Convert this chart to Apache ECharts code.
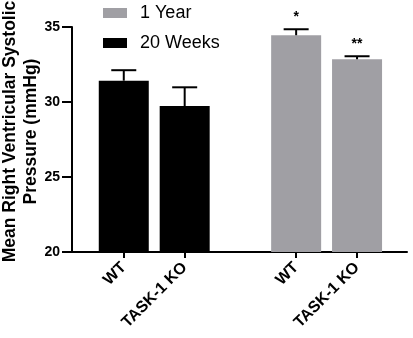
<!DOCTYPE html>
<html>
<head>
<meta charset="utf-8">
<script src="https://cdn.jsdelivr.net/npm/echarts@6/dist/echarts.min.js"></script>
<style>
  html, body { margin: 0; padding: 0; background: #fff; }
  #main { width: 413px; height: 338px; }
</style>
</head>
<body>
<div id="main"></div>
<script>
// values
var genotypes = ['WT', 'TASK-1 KO'];
var pos20w = [1, 2];
var pos1y = [3.83, 4.83];
var mean20w = [31.42, 29.73];
var sem20w = [0.7, 1.25];
var mean1y = [34.45, 32.85];
var sem1y = [0.4, 0.2];
var stars1y = ['*', '**'];

var FONT = 'Liberation Sans, Arial, sans-serif';
var allPos = pos20w.concat(pos1y);
var allNames = genotypes.concat(genotypes);

var errData = [];
var errStars = [];
pos20w.forEach(function (x, i) { errData.push([x, mean20w[i], sem20w[i]]); errStars.push(''); });
pos1y.forEach(function (x, i) { errData.push([x, mean1y[i], sem1y[i]]); errStars.push(stars1y[i]); });

function renderErr(params, api) {
  var x = api.value(0), m = api.value(1), e = api.value(2);
  var p0 = api.coord([x, m]);
  var p1 = api.coord([x, m + e]);
  var half = 12.5;
  var kids = [
    { type: 'line', shape: { x1: p0[0], y1: p0[1], x2: p1[0], y2: p1[1] }, style: { stroke: '#000', lineWidth: 2 } },
    { type: 'line', shape: { x1: p1[0] - half, y1: p1[1], x2: p1[0] + half, y2: p1[1] }, style: { stroke: '#000', lineWidth: 2 } }
  ];
  var s = errStars[params.dataIndex];
  if (s) {
    kids.push({
      type: 'text', x: p1[0], y: p1[1] - 5,
      style: { text: s, fill: '#000', font: 'bold 14px ' + FONT, align: 'center', verticalAlign: 'bottom' }
    });
  }
  return { type: 'group', children: kids };
}

var chart = echarts.init(document.getElementById('main'), null, { renderer: 'canvas' });

var option = {
  animation: false,
  textStyle: { fontFamily: FONT },
  grid: { left: 72, right: 6, top: 27, bottom: 86, outerBoundsMode: 'none', containLabel: false },
  legend: {
    data: ['1 Year', '20 Weeks'],
    orient: 'vertical',
    left: 103,
    top: 4,
    padding: 0,
    itemWidth: 24,
    itemHeight: 10,
    itemGap: 12,
    icon: 'rect',
    textStyle: { fontSize: 18, color: '#000', fontFamily: FONT, padding: [0, 0, 0, 8] }
  },
  xAxis: {
    type: 'value',
    min: 0.15,
    max: 5.65,
    splitLine: { show: false },
    axisLine: { lineStyle: { color: '#000', width: 2 } },
    axisTick: { customValues: allPos, length: 6, lineStyle: { color: '#000', width: 2 } },
    axisLabel: {
      customValues: allPos,
      rotate: 45,
      margin: 13,
      fontSize: 16,
      fontWeight: 'bold',
      color: '#000',
      fontFamily: FONT,
      formatter: function (v) {
        for (var i = 0; i < allPos.length; i++) {
          if (Math.abs(allPos[i] - v) < 0.01) return allNames[i];
        }
        return '';
      }
    }
  },
  yAxis: {
    type: 'value',
    min: 20,
    max: 35,
    interval: 5,
    name: 'Mean Right Ventricular Systolic\nPressure (mmHg)',
    nameLocation: 'middle',
    nameGap: 30,
    nameMoveOverlap: false,
    nameTextStyle: { fontSize: 17.5, fontWeight: 'bold', color: '#000', lineHeight: 21, fontFamily: FONT, padding: [0, 0, 0, 16] },
    splitLine: { show: false },
    axisLine: { show: true, lineStyle: { color: '#000', width: 2 } },
    axisTick: { show: true, length: 10, lineStyle: { color: '#000', width: 2 } },
    axisLabel: { fontSize: 14, fontWeight: 'bold', color: '#000', margin: 12, fontFamily: FONT }
  },
  series: [
    {
      name: '20 Weeks',
      type: 'bar',
      barWidth: 50,
      barGap: '-100%',
      itemStyle: { color: '#000' },
      data: pos20w.map(function (x, i) { return [x, mean20w[i]]; })
    },
    {
      name: '1 Year',
      type: 'bar',
      barWidth: 50,
      barGap: '-100%',
      itemStyle: { color: '#a09fa4' },
      data: pos1y.map(function (x, i) { return [x, mean1y[i]]; })
    },
    {
      type: 'custom',
      renderItem: renderErr,
      z: 10,
      data: errData
    }
  ]
};
chart.setOption(option);
</script>
</body>
</html>
